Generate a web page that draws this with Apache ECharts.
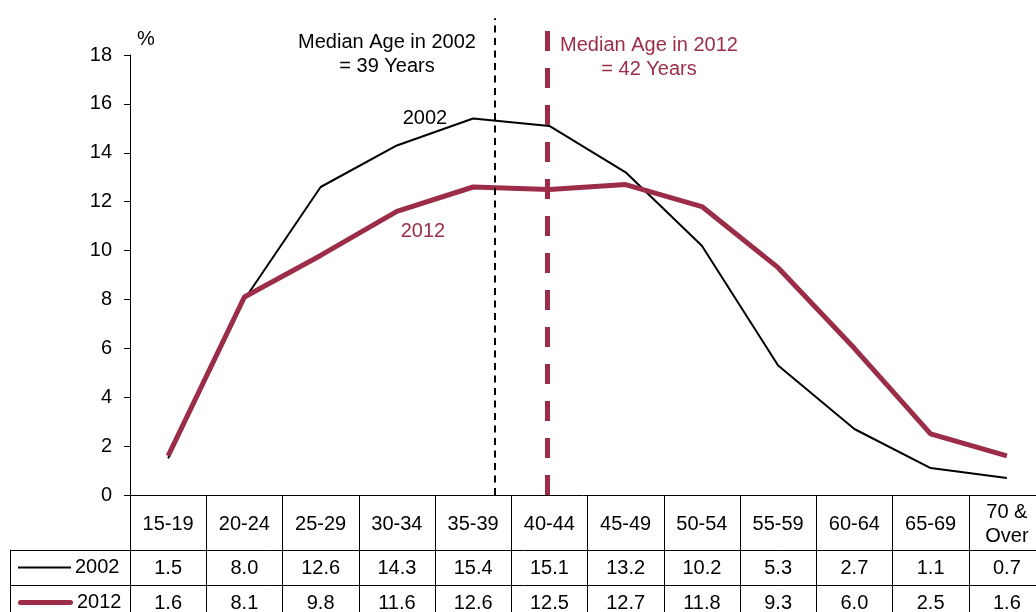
<!DOCTYPE html>
<html>
<head>
<meta charset="utf-8">
<style>
  html, body { margin: 0; padding: 0; background: #fff; }
  #chart { width: 1036px; height: 612px; }
</style>
<script src="https://cdn.jsdelivr.net/npm/echarts@6/dist/echarts.min.js"></script>
</head>
<body>
<div id="chart"></div>
<script>
// ---- data ----
const categories = ['15-19', '20-24', '25-29', '30-34', '35-39', '40-44', '45-49', '50-54', '55-59', '60-64', '65-69', '70 &\nOver'];
const values2002 = [1.5, 8.0, 12.6, 14.3, 15.4, 15.1, 13.2, 10.2, 5.3, 2.7, 1.1, 0.7];
const values2012 = [1.6, 8.1, 9.8, 11.6, 12.6, 12.5, 12.7, 11.8, 9.3, 6.0, 2.5, 1.6];
const seriesNames = ['2002', '2012'];
const yTicks = { min: 0, max: 18, interval: 2 };
const medianTexts = ['Median Age in 2002\n= 39 Years', 'Median Age in 2012\n= 42 Years'];

// ---- layout / style constants ----
const FONT = "'Liberation Sans', Arial, sans-serif";
const MAROON = '#9B2D48';
const PLOT_LEFT = 130, PLOT_TOP = 55, PLOT_W = 915, PLOT_BOTTOM = 495;
const PLOT_H = PLOT_BOTTOM - PLOT_TOP;
const ROW1_TOP = 550, ROW_H = 35;
// median markers: position along category axis (index units) and top of the dashed line (value units)
const medianPos = [4.29, 4.97];
const medianTop = [19.5, 19.2];
const unitsPerPx = (yTicks.max - yTicks.min) / PLOT_H;
const overlayMax = PLOT_BOTTOM * unitsPerPx;

const fmt = v => v.toFixed(1);

const chart = echarts.init(document.getElementById('chart'), null, { renderer: 'canvas' });

const option = {
  animation: false,
  backgroundColor: '#fff',
  textStyle: { fontFamily: FONT },
  grid: [
    { left: PLOT_LEFT, top: PLOT_TOP, width: PLOT_W, height: PLOT_H, outerBoundsMode: 'none' },             // 0 main plot
    { left: PLOT_LEFT, top: PLOT_BOTTOM, width: PLOT_W, height: 130, outerBoundsMode: 'none' },             // 1 table verticals
    { left: 10, top: ROW1_TOP, width: PLOT_W + PLOT_LEFT - 10, height: ROW_H * 2, outerBoundsMode: 'none' }, // 2 table rows
    { left: PLOT_LEFT, top: 0, width: PLOT_W, height: PLOT_BOTTOM, outerBoundsMode: 'none' }                // 3 overlay for median lines
  ],
  xAxis: [
    { // 0 header labels
      gridIndex: 0, type: 'category', data: categories, boundaryGap: true,
      axisLine: { show: true, lineStyle: { color: '#000', width: 1 } },
      axisTick: { show: false },
      axisLabel: { interval: 0, color: '#000', fontSize: 20, fontFamily: FONT, margin: 29, verticalAlign: 'middle', lineHeight: 24 }
    },
    { // 1 2002 values
      gridIndex: 0, type: 'category', data: categories, position: 'bottom',
      axisLine: { show: false }, axisTick: { show: false },
      axisLabel: { interval: 0, color: '#000', fontSize: 20, fontFamily: FONT, margin: ROW1_TOP + ROW_H / 2 - PLOT_BOTTOM + 1, verticalAlign: 'middle',
        formatter: (v, i) => fmt(values2002[i]) }
    },
    { // 2 2012 values
      gridIndex: 0, type: 'category', data: categories, position: 'bottom',
      axisLine: { show: false }, axisTick: { show: false },
      axisLabel: { interval: 0, color: '#000', fontSize: 20, fontFamily: FONT, margin: ROW1_TOP + ROW_H * 1.5 - PLOT_BOTTOM + 1, verticalAlign: 'middle',
        formatter: (v, i) => fmt(values2012[i]) }
    },
    { // 3 table vertical borders
      gridIndex: 1, type: 'category', data: categories, boundaryGap: true,
      axisLine: { show: false }, axisTick: { show: false }, axisLabel: { show: false },
      splitLine: { show: true, interval: 0, lineStyle: { color: '#000', width: 1 } }
    },
    { gridIndex: 2, type: 'value', show: false, min: 0, max: 1 },
    { gridIndex: 3, type: 'value', show: false, min: -0.5, max: categories.length - 0.5 }
  ],
  yAxis: [
    { // 0 main
      gridIndex: 0, type: 'value', min: yTicks.min, max: yTicks.max, interval: yTicks.interval,
      name: '%', nameLocation: 'end', nameGap: 6,
      nameTextStyle: { color: '#000', fontSize: 20, fontFamily: FONT, align: 'left', padding: [0, 0, 0, 7] },
      axisLine: { show: true, lineStyle: { color: '#000', width: 1 } },
      axisTick: { show: true, inside: false, length: 6, lineStyle: { color: '#000', width: 1 } },
      axisLabel: { color: '#000', fontSize: 20, fontFamily: FONT, margin: 18 },
      splitLine: { show: false }
    },
    { gridIndex: 1, type: 'value', show: false, min: 0, max: 1 },
    { // 2 table rows with legend keys
      gridIndex: 2, type: 'category', data: seriesNames, inverse: true,
      axisLine: { show: true, lineStyle: { color: '#000', width: 1 } },
      axisTick: { show: false },
      splitLine: { show: true, interval: 0, lineStyle: { color: '#000', width: 1 } },
      axisLabel: {
        inside: true, margin: 8, interval: 0,
        formatter: v => (v === seriesNames[0] ? '{k1|}{t|' + v + '}' : '{k2|}{t|' + v + '}'),
        rich: {
          k1: { width: 53, height: 2, backgroundColor: '#000' },
          k2: { width: 55, height: 5, backgroundColor: MAROON, borderRadius: 2.5 },
          t: { fontSize: 20, color: '#000', fontFamily: FONT, padding: [0, 0, 0, 4] }
        }
      }
    },
    { gridIndex: 3, type: 'value', show: false, min: 0, max: overlayMax }
  ],
  series: [
    {
      name: seriesNames[0], type: 'line', xAxisIndex: 0, yAxisIndex: 0,
      data: values2002.map((v, i) => i === 4 ? {
        value: v,
        label: { show: true, position: 'left', distance: 26, formatter: seriesNames[0], color: '#000', fontSize: 20, fontFamily: FONT }
      } : v),
      symbol: 'circle', symbolSize: 0, showSymbol: true, silent: true,
      lineStyle: { color: '#000', width: 2 }, itemStyle: { color: '#000' },
      z: 3
    },
    {
      name: seriesNames[1], type: 'line', xAxisIndex: 0, yAxisIndex: 0,
      data: values2012.map((v, i) => i === 3 ? {
        value: v,
        label: { show: true, position: 'inside', offset: [26, 20], formatter: seriesNames[1], color: MAROON, fontSize: 20, fontFamily: FONT }
      } : v),
      symbol: 'circle', symbolSize: 0, showSymbol: true, silent: true,
      lineStyle: { color: MAROON, width: 5 }, itemStyle: { color: MAROON },
      z: 4
    },
    {
      name: 'median', type: 'line', xAxisIndex: 5, yAxisIndex: 3, data: [], silent: true,
      markLine: {
        silent: true, symbol: ['none', 'none'], label: { show: false }, animation: false,
        data: [
          [{ coord: [medianPos[0], 0], lineStyle: { color: '#000', width: 2, type: [7, 5.5] } }, { coord: [medianPos[0], medianTop[0]] }],
          [{ coord: [medianPos[1], 0], lineStyle: { color: MAROON, width: 5, type: [20, 17] } }, { coord: [medianPos[1], medianTop[1]] }]
        ]
      }
    }
  ],
  graphic: [
    { type: 'text', silent: true, style: { x: 387, y: 54, text: medianTexts[0], fill: '#000', font: '20px ' + FONT, textAlign: 'center', textVerticalAlign: 'middle', lineHeight: 24 } },
    { type: 'text', silent: true, style: { x: 649, y: 57, text: medianTexts[1], fill: MAROON, font: '20px ' + FONT, textAlign: 'center', textVerticalAlign: 'middle', lineHeight: 24 } }
  ]
};

chart.setOption(option);
</script>
</body>
</html>
